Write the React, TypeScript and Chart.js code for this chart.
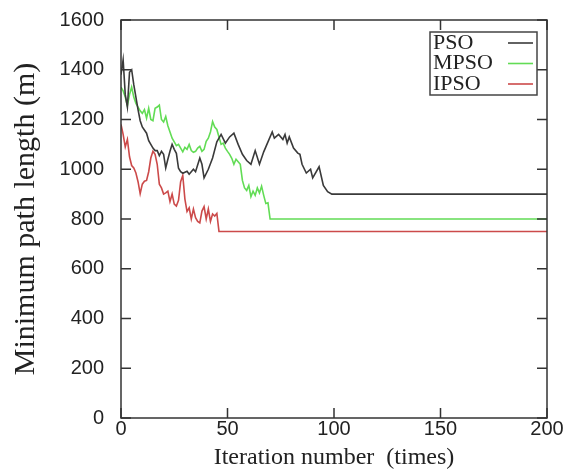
import React, { useEffect, useRef } from "react";
import { Chart, registerables } from "chart.js";
Chart.register(...registerables);

const psoIter = [0,1,2,3,4,5,6,7,8,9,10,12,13,15,16,17,18,19,20,21,22,23,24,25,26,27,28,29,31,32,34,35,37,38,39,41,43,45,47,49,51,53,55,57,59,61,63,65,67,69,71,72,74,76,77,78,79,81,83,84,85,87,89,90,93,95,97,99,200];
const psoLen = [1380,1440,1300,1250,1390,1400,1340,1290,1240,1195,1170,1145,1115,1085,1075,1075,1055,1072,1060,1005,1040,1072,1100,1080,1064,1004,990,984,992,980,1000,990,1045,1020,965,1000,1045,1110,1140,1105,1130,1145,1100,1060,1035,1020,1075,1020,1070,1110,1150,1125,1140,1120,1140,1105,1130,1085,1065,1060,1020,985,1000,965,1010,935,910,900,900];

const mpsoIter = [0,1,2,3,4,5,6,7,8,9,10,11,12,13,14,15,16,17,18,19,20,21,22,23,24,25,26,27,28,29,30,31,32,33,34,35,36,37,38,39,40,41,42,43,44,45,46,47,48,49,50,51,52,53,54,55,56,57,58,59,60,61,62,63,64,65,66,67,68,69,70,200];
const mpsoLen = [1330,1315,1290,1255,1300,1330,1290,1265,1250,1235,1225,1240,1205,1245,1200,1195,1245,1250,1258,1200,1190,1212,1175,1150,1125,1110,1095,1100,1085,1070,1088,1080,1100,1075,1068,1072,1085,1092,1072,1080,1112,1125,1150,1192,1170,1160,1130,1100,1105,1085,1072,1060,1044,1020,1040,1030,1020,955,925,915,935,890,912,895,925,905,932,895,862,865,800,800];

const ipsoIter = [0,1,2,3,4,5,6,7,8,9,10,11,12,13,14,15,16,17,18,19,20,21,22,23,24,25,26,27,28,29,30,31,32,33,34,35,36,37,38,39,40,41,42,43,44,45,46,200];
const ipsoLen = [1180,1140,1090,1120,1050,1015,1005,985,950,902,940,952,955,990,1045,1072,1060,1020,940,925,900,905,912,870,900,860,852,875,950,975,880,830,845,800,840,805,790,784,832,850,800,840,790,820,812,822,750,750];

const seriesNames = ["PSO", "MPSO", "IPSO"];
const seriesColors = ["#3a3a3a", "#62dc55", "#cc4a4a"];
const xTicks = [0, 50, 100, 150, 200];
const yTicks = [0, 200, 400, 600, 800, 1000, 1200, 1400, 1600];

const toPts = (xs: number[], ys: number[]) => xs.map((x, i) => ({ x, y: ys[i] }));

const framePlugin = {
  id: "frame",
  afterDraw(chart: any) {
    const { ctx, chartArea: a, scales } = chart;
    const xs = scales.x, ys = scales.y;
    ctx.save();
    ctx.strokeStyle = "#333";
    ctx.lineWidth = 1.5;
    ctx.strokeRect(a.left, a.top, a.right - a.left, a.bottom - a.top);
    const tl = 10;
    ctx.beginPath();
    yTicks.forEach((v) => {
      const p = ys.getPixelForValue(v);
      ctx.moveTo(a.left, p); ctx.lineTo(a.left + tl, p);
      ctx.moveTo(a.right, p); ctx.lineTo(a.right - tl, p);
    });
    xTicks.forEach((v) => {
      const p = xs.getPixelForValue(v);
      ctx.moveTo(p, a.bottom); ctx.lineTo(p, a.bottom - tl);
      ctx.moveTo(p, a.top); ctx.lineTo(p, a.top + tl);
    });
    ctx.stroke();

    // legend
    const w = 107, h = 63;
    const bx = a.right - 10 - w, by = a.top + 12;
    ctx.fillStyle = "#fff";
    ctx.fillRect(bx, by, w, h);
    ctx.strokeStyle = "#444";
    ctx.lineWidth = 1.5;
    ctx.strokeRect(bx, by, w, h);
    ctx.font = "22px 'Liberation Serif', serif";
    ctx.textBaseline = "middle";
    ctx.textAlign = "left";
    seriesNames.forEach((n, i) => {
      const ty = by + 11 + i * 20.5;
      ctx.fillStyle = "#222";
      ctx.fillText(n, bx + 3, ty);
      ctx.strokeStyle = seriesColors[i];
      ctx.lineWidth = 1.6;
      ctx.beginPath();
      ctx.moveTo(bx + w - 29, ty);
      ctx.lineTo(bx + w - 4, ty);
      ctx.stroke();
    });
    ctx.restore();
  },
};

export default function App() {
  const ref = useRef<HTMLCanvasElement>(null);
  useEffect(() => {
    document.body.style.margin = "0";
    const data = [toPts(psoIter, psoLen), toPts(mpsoIter, mpsoLen), toPts(ipsoIter, ipsoLen)];
    const chart = new Chart(ref.current!, {
      type: "line",
      data: {
        datasets: seriesNames.map((n, i) => ({
          label: n,
          data: data[i],
          borderColor: seriesColors[i],
          borderWidth: 1.6,
          pointRadius: 0,
          tension: 0,
          fill: false,
        })),
      },
      options: {
        animation: false,
        responsive: false,
        events: [],
        layout: { padding: { left: 0, right: 20, top: 20, bottom: 0 } },
        plugins: { legend: { display: false }, tooltip: { enabled: false } },
        scales: {
          x: {
            type: "linear",
            min: 0,
            max: 200,
            afterBuildTicks: (s: any) => { s.ticks = xTicks.map((v) => ({ value: v })); },
            afterFit: (s: any) => { s.height = 52; },
            grid: { display: false, drawTicks: false },
            border: { display: false },
            ticks: { padding: 1, color: "#222", callback: (v: any) => String(v), font: { family: "'Liberation Sans', Arial, sans-serif", size: 20, lineHeight: 1 } },
            title: {
              display: true,
              text: "Iteration number  (times)",
              color: "#222",
              padding: { top: 0, bottom: 0 },
              font: { family: "'Liberation Serif', serif", size: 24, lineHeight: 1 },
            },
          },
          y: {
            type: "linear",
            min: 0,
            max: 1600,
            afterBuildTicks: (s: any) => { s.ticks = yTicks.map((v) => ({ value: v })); },
            afterFit: (s: any) => { s.width = 121; s.paddingTop = 0; s.paddingBottom = 0; },
            grid: { display: false, drawTicks: false },
            border: { display: false },
            ticks: { padding: 17, color: "#222", callback: (v: any) => String(v), font: { family: "'Liberation Sans', Arial, sans-serif", size: 20 } },
            title: {
              display: true,
              text: "Minimum path length (m)",
              color: "#222",
              padding: { top: 11, bottom: 0 },
              font: { family: "'Liberation Serif', serif", size: 30, lineHeight: 1 },
            },
          },
        },
      },
      plugins: [framePlugin],
    });
    return () => chart.destroy();
  }, []);
  return (
    <div style={{ width: 567, height: 470 }}>
      <canvas ref={ref} width={567} height={470} style={{ display: "block" }} />
    </div>
  );
}
